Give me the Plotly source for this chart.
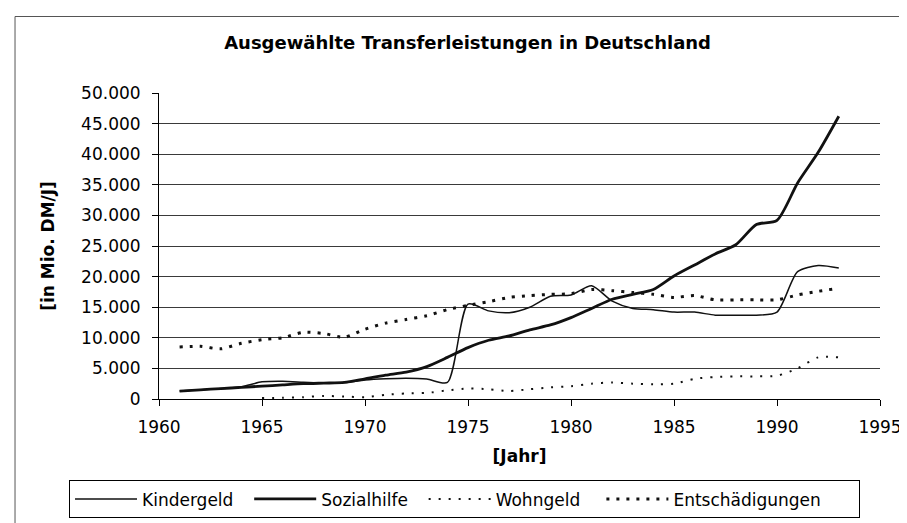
import plotly.graph_objects as go

# ---- data (Mio. DM per year) ----
years = list(range(1961, 1994))

kindergeld = [1300, 1500, 1700, 2000, 2800, 2900, 2750, 2600, 2700, 3100,
              3300, 3400, 3250, 2700, 15500, 14400, 14100, 15000, 16800, 17000,
              18500, 16000, 14800, 14600, 14200, 14200, 13700, 13700, 13700, 14200,
              20800, 21800, 21400]

sozialhilfe = [1300, 1500, 1700, 1900, 2100, 2300, 2500, 2600, 2700, 3300,
               3900, 4400, 5300, 6800, 8400, 9600, 10300, 11300, 12100, 13300,
               14800, 16300, 17100, 17900, 20100, 21900, 23700, 25200, 28500, 29200,
               35300, 40300, 46200]

wohngeld_years = list(range(1965, 1994))
wohngeld = [150, 200, 300, 500, 400, 300, 700, 900, 1000, 1400,
            1700, 1600, 1300, 1600, 1900, 2100, 2500, 2700, 2500, 2400,
            2500, 3300, 3600, 3700, 3700, 3800, 5000, 6800, 6800]

entschaedigungen = [8500, 8600, 8200, 9100, 9700, 10000, 10900, 10700, 10100, 11400,
                    12400, 13000, 13600, 14600, 15300, 15900, 16600, 16900, 17100, 17200,
                    17900, 17700, 17400, 17100, 16600, 16900, 16200, 16200, 16200, 16200,
                    17000, 17600, 18100]

series_names = ["Kindergeld", "Sozialhilfe", "Wohngeld", "Entschädigungen"]
title_text = "Ausgewählte Transferleistungen in Deutschland"
x_title = "[Jahr]"
y_title = "[in Mio. DM/J]"

FONT = "DejaVu Sans"
INK = "#111111"
NB = "\u00a0"
# trailing non-breaking spaces only widen the legend entries
pads = [2, 2, 3, 6]
legend_names = [n + NB * p for n, p in zip(series_names, pads)]

fig = go.Figure()
fig.add_trace(go.Scatter(x=years, y=kindergeld, name=legend_names[0], mode="lines",
                         line=dict(color=INK, width=1.5, shape="spline", smoothing=0.7)))
fig.add_trace(go.Scatter(x=years, y=sozialhilfe, name=legend_names[1], mode="lines",
                         line=dict(color=INK, width=2.8, shape="spline", smoothing=0.7)))
fig.add_trace(go.Scatter(x=wohngeld_years, y=wohngeld, name=legend_names[2], mode="lines",
                         line=dict(color=INK, width=2, dash="2px,8px", shape="spline", smoothing=0.7)))
fig.add_trace(go.Scatter(x=years, y=entschaedigungen, name=legend_names[3], mode="lines",
                         line=dict(color=INK, width=3, dash="3px,7px", shape="spline", smoothing=0.7)))

fig.update_layout(
    width=907, height=523,
    margin=dict(l=151, r=35, t=85, b=126),
    paper_bgcolor="white", plot_bgcolor="white",
    separators=",.",
    font=dict(family=FONT, size=17, color="black"),
    title=dict(text=title_text, x=0.428, xref="paper", xanchor="center",
               y=0.933, yref="container", yanchor="middle",
               font=dict(family=FONT, size=18, weight="bold", color="black")),
    xaxis=dict(range=[1960, 1995], dtick=5, tick0=1960, showgrid=False,
               showline=True, linecolor="black", linewidth=1,
               ticks="outside", ticklen=6, tickcolor="black",
               zeroline=False, automargin=False, ticklabelstandoff=7,
               tickfont=dict(family=FONT, size=17, color="black"),
               title=dict(text=x_title, standoff=13,
                          font=dict(family=FONT, size=17, weight="bold", color="black"))),
    yaxis=dict(range=[0, 50000], dtick=5000, tick0=0, tickformat=",d",
               showgrid=True, gridcolor="#3a3a3a", gridwidth=1,
               showline=True, linecolor="black", linewidth=1,
               ticks="outside", ticklen=6, tickcolor="black",
               zeroline=False, automargin=False, ticklabelstandoff=8,
               tickfont=dict(family=FONT, size=17, color="black"),
               title=dict(text=y_title, standoff=22,
                          font=dict(family=FONT, size=17, weight="bold", color="black"))),
    legend=dict(orientation="h", x=-0.1248, xanchor="left", y=-0.266, yanchor="top",
                bordercolor="black", borderwidth=1, bgcolor="white",
                font=dict(family=FONT, size=17, color="black"),
                itemwidth=62, tracegroupgap=0),
    shapes=[dict(type="rect", xref="paper", yref="paper",
                 x0=-0.1997, x1=1.0458, y0=-0.43, y1=1.25,
                 line=dict(color="#555555", width=1))],
    showlegend=True,
)

fig.write_html("out.html")
